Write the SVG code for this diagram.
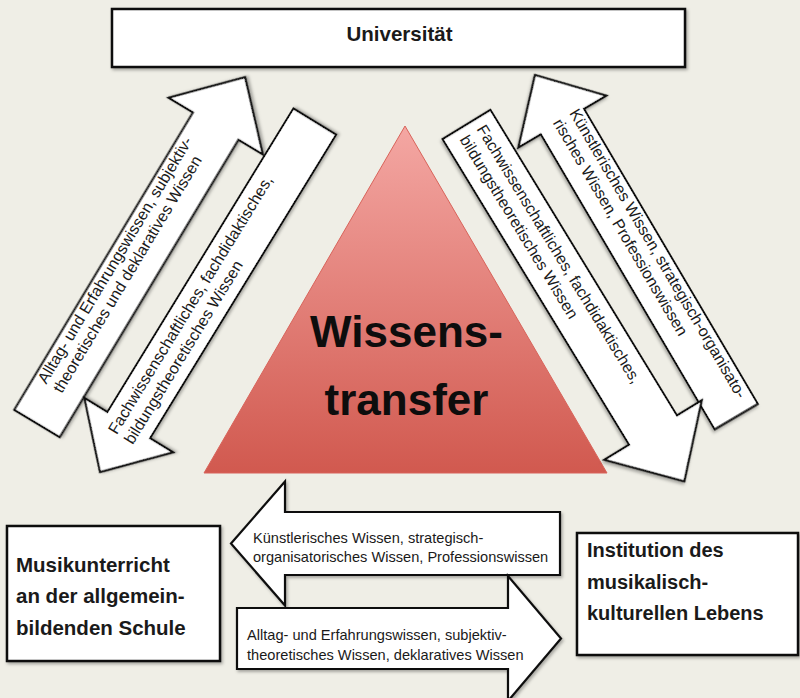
<svg xmlns="http://www.w3.org/2000/svg" width="800" height="698" viewBox="0 0 800 698">
<defs>
<linearGradient id="tri" x1="0" y1="0" x2="0" y2="1">
<stop offset="0" stop-color="#f4a7a3"/>
<stop offset="1" stop-color="#d1594f"/>
</linearGradient>
<filter id="sh" x="-10%" y="-10%" width="130%" height="130%">
<feDropShadow dx="1.5" dy="2" stdDeviation="1.5" flood-color="#000" flood-opacity="0.3"/>
</filter>
<style>
.box{fill:#fff;stroke:#111;stroke-width:2.5;filter:url(#sh)}
.arr{fill:#fff;stroke:#111;stroke-width:2.2;stroke-linejoin:miter;filter:url(#sh)}
.t{font-family:"Liberation Sans",Arial,sans-serif;fill:#1a1a1a}
.d{font-size:16px}
.b{font-size:14.6px}
.n{font-size:20.5px;font-weight:bold}
.big{font-size:44px;font-weight:bold;fill:#0d0d0d}
</style>
</defs>
<rect x="0" y="0" width="800" height="698" fill="#efeee6"/>

<g id="wissenstransfer">
<polygon points="405,126 204,473 607,473" fill="url(#tri)" stroke="#d8635a" stroke-width="1"/>
<text class="t big" x="406.5" y="347" text-anchor="middle">Wissens-</text>
<text class="t big" x="406.5" y="415" text-anchor="middle">transfer</text>
</g>

<g id="universitaet">
<rect class="box" x="112" y="9" width="573" height="58"/>
<text class="t n" x="399.5" y="41" text-anchor="middle">Universität</text>
</g>

<g id="schule">
<rect class="box" x="7" y="526" width="213" height="135"/>
<text class="t n" x="16" y="572">Musikunterricht</text>
<text class="t n" x="16" y="603">an der allgemein-</text>
<text class="t n" x="16" y="635">bildenden Schule</text>
</g>

<g id="institution">
<rect class="box" x="577" y="533" width="221" height="122"/>
<text class="t n" x="587" y="557" style="font-size:20px">Institution des</text>
<text class="t n" x="587" y="589" style="font-size:20px">musikalisch-</text>
<text class="t n" x="587" y="620" style="font-size:20px">kulturellen Lebens</text>
</g>

<g id="connectors">
<g id="a1" transform="translate(37,423.5) rotate(-59)">
<polygon class="arr" points="0,-26.5 347,-26.5 347,-55 404,0 347,55 347,26.5 0,26.5"/>
<text class="t d" x="38" y="-12">Alltag- und Erfahrungswissen, subjektiv-</text>
<text class="t d" x="38" y="6">theoretisches und deklaratives Wissen</text>
</g>
<g id="a2" transform="translate(100,472) rotate(-58.5)">
<polygon class="arr" points="0,0 55,-52 55,-25 411,-25 411,25 55,25 55,52"/>
<text class="t d" x="40" y="-5">Fachwissenschaftliches, fachdidaktisches,</text>
<text class="t d" x="40" y="14">bildungstheoretisches Wissen</text>
</g>
<g id="a3" transform="translate(535,75) rotate(59.5)">
<polygon class="arr" points="0,0 54,-51 54,-25 396.5,-25 396.5,25 54,25 54,51"/>
<text class="t d" x="50" y="-10">Künstlerisches Wissen, strategisch-organisato-</text>
<text class="t d" x="50" y="9">risches Wissen, Professionswissen</text>
</g>
<g id="a4" transform="translate(466.5,124.5) rotate(58.6)">
<polygon class="arr" points="0,-28 358,-28 358,-57 418,0 358,57 358,28 0,28"/>
<text class="t d" x="9" y="-6">Fachwissenschaftliches, fachdidaktisches,</text>
<text class="t d" x="9" y="14">bildungstheoretisches Wissen</text>
</g>
<g id="a5" transform="translate(231,543.5)">
<polygon class="arr" points="0,0 54,-62 54,-31.5 329,-31.5 329,31.5 54,31.5 54,62"/>
<text class="t b" x="22" y="-1">Künstlerisches Wissen, strategisch-</text>
<text class="t b" x="22" y="18">organisatorisches Wissen, Professionswissen</text>
</g>
<g id="a6" transform="translate(237,638.5)">
<polygon class="arr" points="0,-30.5 271,-30.5 271,-62.5 324,0 271,62.5 271,30.5 0,30.5"/>
<text class="t b" x="10" y="1.5">Alltag- und Erfahrungswissen, subjektiv-</text>
<text class="t b" x="10" y="21.5">theoretisches Wissen, deklaratives Wissen</text>
</g>
</g>
</svg>
